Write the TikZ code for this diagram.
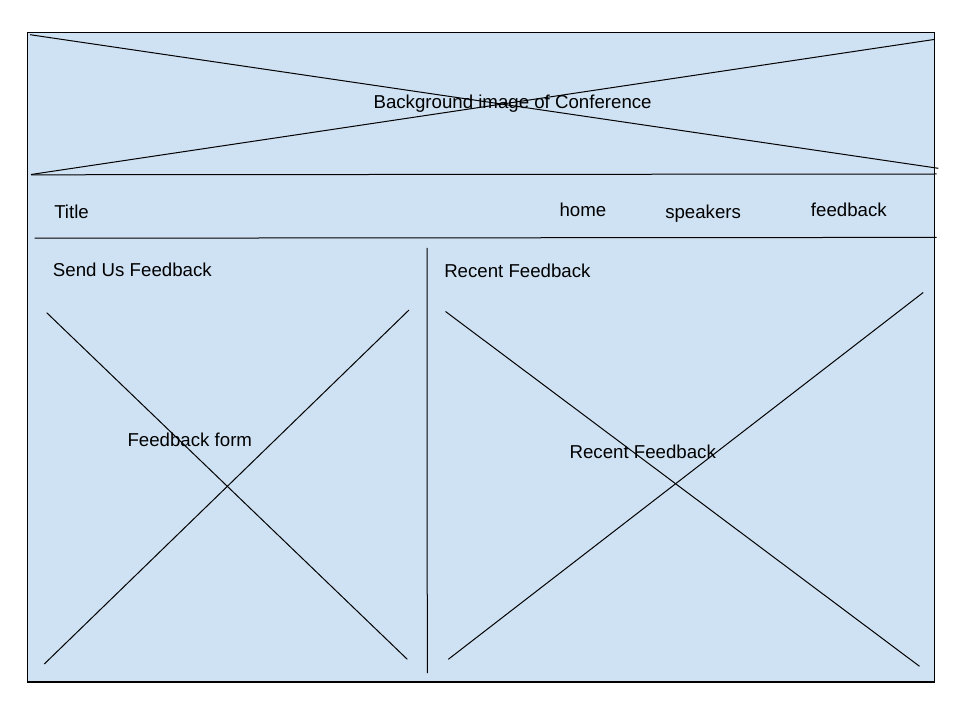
\documentclass[tikz,border=0pt]{standalone}
\usepackage{fontspec}
\setmainfont{Liberation Sans}
\definecolor{wfblue}{HTML}{CFE2F3}
\begin{document}
\begin{tikzpicture}[x=0.75pt,y=-0.75pt,
  wline/.style={draw=black,line width=0.75pt},
  lbl/.style={anchor=base west,inner sep=0pt,font=\fontsize{14pt}{16pt}\selectfont,text=black}]
\useasboundingbox (0,0) rectangle (960,720);
% page frame
\draw[fill=wfblue,draw=black,line width=1pt] (27.5,32.5) rectangle (934.5,682);
% header image cross
\coordinate (ha1) at (30,34.7);
\coordinate (ha2) at (938.3,168.3);
\coordinate (hb1) at (31,174.5);
\coordinate (hb2) at (934,39.5);
\draw[wline] (ha1) -- (ha2);
\draw[wline] (hb1) -- (hb2);
% nav bar lines
\coordinate (n1a) at (31,174.8);
\coordinate (n1b) at (936.5,174);
\coordinate (n2a) at (34.5,238.2);
\coordinate (n2b) at (936.5,237.4);
\draw[wline] (n1a) -- (n1b);
\draw[wline] (n2a) -- (n2b);
% column divider
\coordinate (d1) at (427,248);
\coordinate (d2) at (427.3,673);
\draw[wline] (d1) -- (d2);
% left cross
\coordinate (la1) at (46.7,312.7);
\coordinate (la2) at (407.3,659.3);
\coordinate (lb1) at (409,310);
\coordinate (lb2) at (44.3,664);
\draw[wline] (la1) -- (la2);
\draw[wline] (lb1) -- (lb2);
% right cross
\coordinate (ra1) at (445.5,311.5);
\coordinate (ra2) at (919.5,666.3);
\coordinate (rb1) at (923.2,292.5);
\coordinate (rb2) at (448.3,659.3);
\draw[wline] (ra1) -- (ra2);
\draw[wline] (rb1) -- (rb2);
% texts
\node[lbl] (bg) at (373.3,108.3) {Background image of Conference};
\node[lbl] (title) at (54,218.3) {Title};
\node[lbl] (home) at (559.3,216.7) {home};
\node[lbl] (speakers) at (665,218.3) {speakers};
\node[lbl] (feedback) at (810.7,216.7) {feedback};
\node[lbl] (send) at (52.7,276.7) {Send Us Feedback};
\node[lbl] (recenth) at (444,277) {Recent Feedback};
\node[lbl] (form) at (127.3,446) {Feedback form};
\node[lbl] (recentc) at (569.3,458.3) {Recent Feedback};
\end{tikzpicture}
\end{document}
